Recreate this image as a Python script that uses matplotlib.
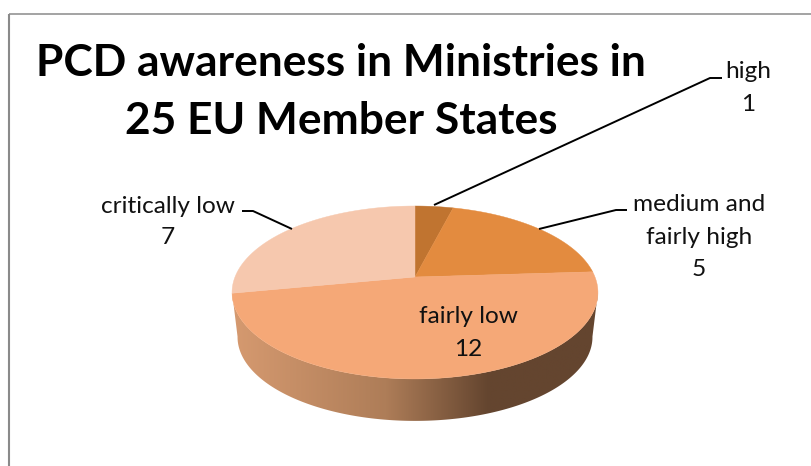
import numpy as np
import matplotlib
matplotlib.use('Agg')
import matplotlib.pyplot as plt
from matplotlib.colors import LinearSegmentedColormap
from matplotlib.patches import Polygon

plt.rcParams['font.family'] = ['Lato', 'DejaVu Sans']

# answers per awareness level
levels = ['high', 'medium and\nfairly high', 'fairly low', 'critically low']
counts = [1, 5, 12, 7]
colors = ['#C07430', '#E38B3F', '#F5A877', '#F6C8AE']
title_lines = ['PCD awareness in Ministries in', '25 EU Member States']

# pie placement in pixels
cx, cy = 415, 277
rx, ry = 180, 83.7
persp = 0.179
shrink, depth = 0.97, 45


def rim(theta, scale=1.0, drop=0.0):
    # theta clockwise from 12 o'clock, simple perspective on the disc
    w = 1 + persp * np.cos(theta)
    x = cx + scale * rx * np.sin(theta) / w
    y = cy + drop - scale * ry * np.cos(theta) / w
    return x, y


fig = plt.figure(figsize=(8.11, 4.66), dpi=100)
ax = fig.add_axes([0, 0, 1, 1])
ax.set_xlim(0, 811)
ax.set_ylim(466, 0)
ax.axis('off')

# chart frame
ax.plot([9, 9], [466, 14], color='#8A8A8A', lw=1.5, solid_capstyle='butt')
ax.plot([9, 811], [13.8, 13.8], color='#8A8A8A', lw=1.1, solid_capstyle='butt')

# side wall, shaded left to right
t_front = np.radians(np.linspace(100, 260, 200))
x1, y1 = rim(t_front)
x2, y2 = rim(t_front[::-1], shrink, depth)
wall = Polygon(np.column_stack([np.r_[x1, x2], np.r_[y1, y2]]), closed=True,
               facecolor='none', edgecolor='none')
ax.add_patch(wall)
wall_cmap = LinearSegmentedColormap.from_list(
    'wall', [(0, '#D69A70'), (0.42, '#AE7D58'), (0.70, '#64452F'), (1, '#64452F')])
grad = ax.imshow(np.linspace(0, 1, 256)[None, :], cmap=wall_cmap, aspect='auto',
                 extent=[cx - rx * 1.02, cx + rx * 1.02, 430, 260], zorder=1)
grad.set_clip_path(wall)
ax.set_xlim(0, 811)
ax.set_ylim(466, 0)

# top face wedges
edges = np.r_[0, np.cumsum(counts)] / sum(counts) * 2 * np.pi
for i in range(len(counts)):
    t = np.linspace(edges[i], edges[i + 1], 120)
    x, y = rim(t)
    ax.add_patch(Polygon(np.column_stack([np.r_[cx, x], np.r_[cy, y]]), closed=True,
                         facecolor=colors[i], edgecolor=colors[i], lw=0.3, zorder=2))

# leader lines
lk = dict(color='black', lw=1.4, zorder=3, solid_capstyle='butt')
ax.plot([722, 710, 434], [78, 78, 205], **lk)
ax.plot([627, 616, 539], [210, 210, 229], **lk)
ax.plot([242, 253, 292], [211, 211, 229], **lk)

# labels, baselines set by hand
fs = 17.6
tk = dict(ha='center', va='baseline', fontsize=fs, color='#111111', zorder=4)
ax.text(748, 78, levels[0], **tk)
ax.text(748, 111, counts[0], **tk)
med1, med2 = levels[1].split('\n')
ax.text(699, 211, med1, **tk)
ax.text(699, 244, med2, **tk)
ax.text(699, 276, counts[1], **tk)
ax.text(468, 323, levels[2], **tk)
ax.text(468, 356, counts[2], **tk)
ax.text(168, 213, levels[3], **tk)
ax.text(168, 244, counts[3], **tk)

# title
ax.text(341, 76, title_lines[0], ha='center', va='baseline', fontsize=31.9, fontweight='bold')
ax.text(341, 134, title_lines[1], ha='center', va='baseline', fontsize=31.9, fontweight='bold')

fig.savefig('out.png', dpi=100)
